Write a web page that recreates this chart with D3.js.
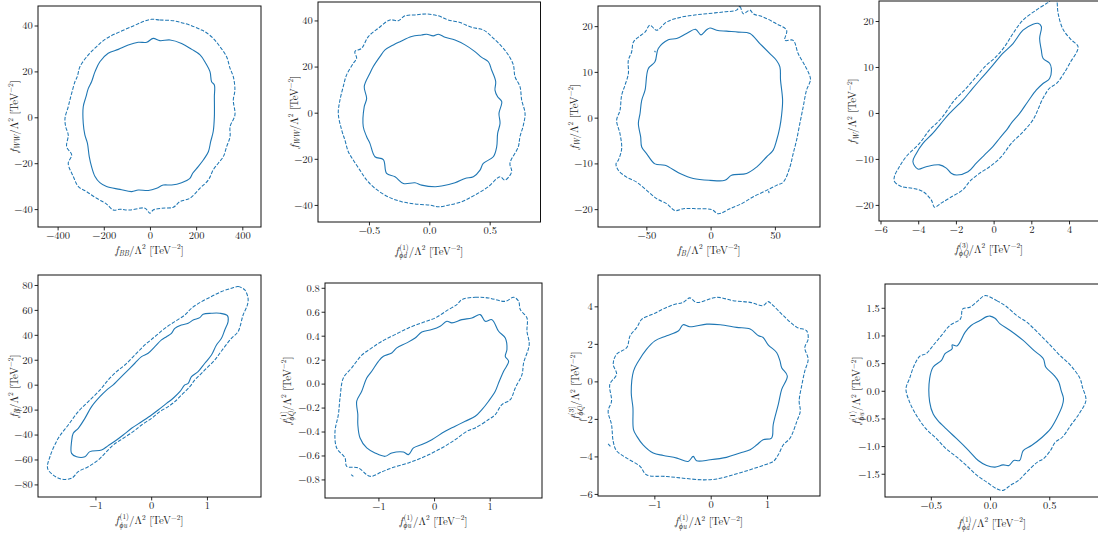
<!DOCTYPE html>
<html>
<head>
<meta charset="utf-8">
<script src="https://cdn.jsdelivr.net/npm/d3@7"></script>
<style>
  html, body { margin: 0; padding: 0; background: #fff; }
  svg { display: block; }
</style>
</head>
<body>
<script>
// ---- contour data: [coefficient on x, coefficient on y] ----
const p1Solid = [[14,34.4],[43,33.4],[87,33.7],[137,32.2],[181,29.6],[217,27.2],[238,24.2],[260,19.9],[267,15.5],[279,14.1],[279,9],[279,0.3],[274,-6.2],[263,-10.6],[253,-15],[231,-18.6],[209,-21.5],[185,-24.4],[173,-26.6],[137,-28.5],[94,-29.5],[58,-29.5],[29,-30.9],[-7,-31.9],[-51,-31.7],[-79,-32.4],[-130,-31.4],[-188,-30.2],[-217,-28.5],[-238,-25.8],[-253,-21.5],[-263,-17.1],[-271,-11.3],[-282,-7.7],[-289,-2.6],[-289,4.6],[-277,9],[-267,12.6],[-253,15.5],[-238,19.9],[-217,24.2],[-181,27.9],[-137,29.6],[-94,31.5],[-51,32.7],[-14,32.7]];
const p1Dashed = [[7,42.7],[43,42.4],[101,42.1],[137,41.2],[173,40.2],[217,38.3],[238,37.3],[274,34.4],[303,30.8],[332,26.4],[347,21.3],[361,17.7],[368,11.9],[361,7.5],[368,1.0],[347,-4.1],[347,-8.4],[332,-12.8],[318,-17.1],[296,-20],[274,-22.9],[253,-27.3],[217,-30.9],[173,-35.3],[130,-36.7],[101,-39.2],[51,-39.6],[14,-40.4],[0,-41.8],[-22,-39.6],[-87,-40.4],[-130,-40.1],[-159,-40.4],[-188,-37.8],[-231,-35.3],[-274,-32.4],[-310,-30.2],[-332,-25.8],[-354,-20],[-339,-16.4],[-361,-12.8],[-354,-7.7],[-365,-4.1],[-368,-0.4],[-354,4.6],[-347,7.5],[-339,10.5],[-325,15.5],[-315,17.7],[-303,22.1],[-267,27.2],[-231,30.8],[-188,34.4],[-130,37.3],[-72,39.8],[-29,41.7]];

const p2Solid = [[-0.022,34.0],[0.033,33.3],[0.075,34.0],[0.13,32.7],[0.213,31.5],[0.296,29.4],[0.378,26.5],[0.434,24.0],[0.489,22.1],[0.516,18.5],[0.55,13.5],[0.544,9.8],[0.566,6.9],[0.6,4.8],[0.577,-0.3],[0.586,-4.6],[0.566,-9.0],[0.558,-14.8],[0.53,-19.1],[0.447,-22],[0.42,-24.9],[0.365,-27.8],[0.296,-28.5],[0.213,-30.4],[0.102,-31.8],[0.047,-32.1],[-0.064,-31.4],[-0.119,-30.4],[-0.215,-30.7],[-0.284,-27.8],[-0.354,-26.3],[-0.381,-20.3],[-0.45,-19.1],[-0.492,-13.3],[-0.519,-10.4],[-0.547,-6.1],[-0.539,2.6],[-0.519,6.2],[-0.539,11.3],[-0.492,17.1],[-0.464,20.0],[-0.409,24.3],[-0.367,27.2],[-0.298,29.4],[-0.243,30.8],[-0.146,33.0],[-0.064,33.7]];
const p2Dashed = [[-0.022,42.8],[0.075,42.0],[0.157,40.2],[0.254,39.1],[0.351,37.0],[0.447,35.9],[0.516,33.0],[0.6,28.7],[0.655,25.0],[0.696,20.7],[0.71,15.6],[0.751,11.3],[0.765,5.5],[0.793,-0.3],[0.779,-5.4],[0.751,-10.4],[0.737,-14.8],[0.668,-22],[0.682,-25.6],[0.627,-29.2],[0.586,-27.8],[0.489,-32.1],[0.378,-35.7],[0.268,-38.6],[0.157,-40.1],[0.075,-40.8],[0.006,-40.1],[-0.119,-39.6],[-0.229,-38.6],[-0.34,-36.5],[-0.45,-32.8],[-0.519,-29.2],[-0.575,-24.9],[-0.63,-20.5],[-0.671,-16.9],[-0.699,-11.9],[-0.726,-7.5],[-0.754,-0.3],[-0.74,5.5],[-0.713,11.3],[-0.685,16.4],[-0.63,21.4],[-0.602,23.6],[-0.616,26.5],[-0.561,27.9],[-0.505,33.0],[-0.423,36.6],[-0.326,40.2],[-0.257,39.9],[-0.202,42.0],[-0.119,42.4]];

const p3Solid = [[-0.5,19.6],[4.7,19.1],[12.4,18.9],[21.5,18.7],[30.6,18.4],[38.3,16.2],[46.1,14.0],[51.3,12.5],[53.9,11.1],[54.4,8.2],[56,3.8],[55.2,0.5],[53.9,-2.0],[51.3,-5.0],[48.7,-7.1],[43.5,-8.6],[35.8,-10.8],[28,-12.2],[16.3,-12.6],[11.1,-13.7],[-0.5,-13.7],[-13.5,-13.3],[-23.8,-12.2],[-35.5,-10.4],[-43.3,-10.1],[-49.7,-7.9],[-53.6,-6.4],[-54.4,-4.2],[-56.2,-1.3],[-54.9,0.9],[-53.6,3.8],[-51,6.0],[-48.5,10.7],[-43.3,12.2],[-40.7,15.1],[-32.9,17.0],[-26.4,17.3],[-18.7,18.4],[-11.7,19.3],[-7.5,18.1],[-3.1,19.2]];
const p3Dashed = [[20.2,23.5],[22.8,24.3],[25.4,22.7],[30.6,23.5],[33.2,22.7],[40.9,22.0],[51.3,20.5],[59.1,19.1],[57.8,16.9],[64.2,16.9],[68.1,14.0],[73.3,11.4],[75.9,10.0],[77.7,8.3],[74.6,6.0],[72,2.3],[69.4,-1.3],[66.8,-5.0],[64.2,-7.9],[61.7,-10.8],[56.5,-14.1],[51.3,-14.8],[43.5,-15.9],[33.2,-17.3],[24.1,-18.8],[15,-19.9],[6,-21],[0.8,-20.1],[-10.9,-19.9],[-21.2,-19.9],[-27.7,-20.3],[-34.2,-18.8],[-42,-17.7],[-49.7,-15.9],[-57.5,-14.1],[-65.3,-13],[-71.8,-11.5],[-73.6,-10.1],[-71.8,-9.3],[-69.2,-6.8],[-70.5,-3.5],[-73.1,-0.6],[-70.5,1.6],[-69.2,4.9],[-66.6,7.1],[-64,9.6],[-64,12.5],[-61.4,14.4],[-60.1,16.5],[-56.2,17.6],[-51,18.7],[-47.2,20.2],[-42,19.1],[-34.2,20.9],[-23.8,21.9],[-13.5,22.4],[-3.1,22.7],[9.8,23.1]];
const p3Specks = [[[-43.6,14.6],[-42.9,14.3]], [[45.1,-16.0],[45.5,-16.5]]];

const p4Solid = [[-4.28,-10.6],[-4.02,-12.2],[-3.58,-11.7],[-2.87,-11.3],[-2.51,-12.0],[-2.25,-13.1],[-1.98,-13.5],[-1.36,-12.8],[-0.92,-10.9],[-0.48,-9.1],[-0.04,-7.3],[0.32,-5.5],[0.76,-3.3],[0.94,-2.2],[1.38,-0.1],[1.82,2.5],[2.27,5.0],[2.62,6.4],[2.97,7.5],[3.06,9.7],[2.97,10.8],[2.62,11.9],[2.53,13.7],[2.44,16.2],[2.53,18.8],[2.35,19.5],[2.09,19.3],[1.56,18.0],[1.03,15.1],[0.5,13.0],[-0.04,10.4],[-0.57,7.9],[-1.1,5.4],[-1.63,2.8],[-2.34,-0.1],[-2.78,-2.2],[-3.22,-4.4],[-3.75,-6.6],[-4.1,-8.8]];
const p4Dashed = [[-5.26,-13.8],[-5.26,-14.9],[-4.9,-16.0],[-4.28,-16.4],[-3.75,-17.1],[-3.31,-18.9],[-3.13,-20.5],[-2.78,-19.6],[-2.34,-18.5],[-1.63,-16.7],[-1.27,-14.9],[-0.74,-13.1],[-0.21,-11.7],[0.41,-9.5],[0.94,-6.6],[1.56,-4.1],[2.09,-1.5],[2.62,3.2],[2.97,5.4],[3.33,6.4],[3.68,8.3],[4.04,10.8],[4.48,14.4],[4.12,15.9],[3.68,18.2],[3.42,21.7],[3.36,24.4],[3.3,25.3],[3.1,25.3],[2.95,24.2],[2.8,23.8],[2.27,22.4],[1.56,20.2],[1.03,17.3],[0.58,14.4],[0.05,11.9],[-0.39,10.4],[-0.92,7.9],[-1.45,5.4],[-2.07,2.8],[-2.78,-1.2],[-3.4,-3.7],[-3.93,-6.6],[-4.64,-9.5],[-5.0,-11.7]];

const p5Solid = [[0.932,56.5],[1.081,57.3],[1.231,57.3],[1.368,55.4],[1.38,50.6],[1.32,43.9],[1.261,37.2],[1.171,31.9],[1.081,23.8],[0.962,17.2],[0.842,10.5],[0.723,6.4],[0.663,1.1],[0.603,-0.2],[0.514,-5.6],[0.394,-10.9],[0.275,-15.0],[0.125,-20.3],[0.006,-24.3],[-0.173,-29.7],[-0.352,-35.0],[-0.502,-40.4],[-0.621,-44.4],[-0.771,-48.9],[-0.89,-52.4],[-1.099,-53.7],[-1.189,-57.8],[-1.338,-57.8],[-1.428,-55.1],[-1.428,-45.7],[-1.398,-39.0],[-1.308,-35.0],[-1.189,-27.0],[-1.069,-17.6],[-0.92,-9.6],[-0.8,-4.3],[-0.681,-0.2],[-0.591,3.8],[-0.442,10.5],[-0.293,17.2],[-0.173,22.5],[-0.054,25.2],[0.066,30.5],[0.185,35.9],[0.275,38.5],[0.364,41.2],[0.424,45.2],[0.543,47.9],[0.663,49.3],[0.753,51.9],[0.872,53.8]];
const p5Dashed = [[1.439,77.3],[1.559,78.7],[1.679,76.0],[1.738,69.3],[1.726,64.0],[1.649,55.9],[1.559,42.6],[1.439,37.2],[1.32,30.5],[1.231,25.2],[1.141,19.8],[1.022,14.5],[0.902,9.1],[0.783,3.8],[0.693,-1.6],[0.543,-8.3],[0.424,-13.6],[0.305,-17.6],[0.155,-21.6],[0.006,-27.0],[-0.173,-32.3],[-0.323,-37.7],[-0.502,-43.0],[-0.681,-48.4],[-0.8,-53.7],[-0.95,-60.4],[-1.129,-65.8],[-1.308,-69.8],[-1.428,-75.1],[-1.607,-75.7],[-1.756,-72.5],[-1.858,-67.1],[-1.816,-57.8],[-1.667,-43.0],[-1.487,-32.3],[-1.308,-21.6],[-1.129,-13.6],[-0.92,-4.3],[-0.771,3.8],[-0.621,10.5],[-0.472,15.8],[-0.293,23.8],[-0.113,31.9],[0.066,38.5],[0.245,45.2],[0.424,50.6],[0.603,55.9],[0.723,61.3],[0.902,66.6],[1.081,70.7],[1.261,74.7]];

const p6Solid = [[0.83,0.576],[0.92,0.52],[1.04,0.534],[1.16,0.437],[1.28,0.381],[1.31,0.284],[1.28,0.228],[1.34,0.186],[1.25,0.103],[1.16,0.006],[1.1,-0.064],[0.98,-0.147],[0.86,-0.217],[0.74,-0.273],[0.56,-0.314],[0.38,-0.356],[0.2,-0.398],[-0.04,-0.468],[-0.22,-0.509],[-0.37,-0.537],[-0.46,-0.593],[-0.55,-0.571],[-0.76,-0.579],[-0.88,-0.607],[-1.06,-0.579],[-1.21,-0.537],[-1.33,-0.454],[-1.37,-0.342],[-1.37,-0.259],[-1.39,-0.147],[-1.3,-0.064],[-1.21,0.047],[-1.12,0.103],[-1.0,0.186],[-0.91,0.228],[-0.76,0.256],[-0.67,0.298],[-0.49,0.34],[-0.34,0.381],[-0.22,0.431],[-0.04,0.451],[0.11,0.479],[0.23,0.52],[0.32,0.507],[0.5,0.534],[0.68,0.548]];
const p6Dashed = [[0.5,0.701],[0.74,0.721],[0.98,0.715],[1.28,0.687],[1.43,0.721],[1.52,0.687],[1.55,0.618],[1.67,0.548],[1.67,0.437],[1.71,0.326],[1.61,0.173],[1.58,0.075],[1.46,-0.036],[1.37,-0.134],[1.22,-0.175],[1.1,-0.259],[0.98,-0.3],[0.74,-0.37],[0.59,-0.398],[0.38,-0.468],[0.14,-0.537],[-0.16,-0.607],[-0.46,-0.662],[-0.76,-0.704],[-0.94,-0.737],[-1.15,-0.774],[-1.36,-0.704],[-1.57,-0.69],[-1.6,-0.621],[-1.75,-0.537],[-1.78,-0.398],[-1.72,-0.259],[-1.69,-0.12],[-1.63,0.047],[-1.48,0.131],[-1.3,0.237],[-1.12,0.298],[-0.94,0.353],[-0.7,0.409],[-0.46,0.465],[-0.22,0.507],[0.02,0.548],[0.26,0.618],[0.41,0.66]];
const p6Specks = [[[-1.49,-0.76],[-1.45,-0.775]]];

const p7Solid = [[-0.49,3.02],[-0.37,2.91],[-0.07,3.05],[0.17,3.02],[0.46,2.88],[0.7,2.79],[0.85,2.43],[0.93,2.34],[1.02,1.95],[1.17,1.54],[1.23,1.09],[1.26,0.73],[1.36,0.29],[1.26,-0.43],[1.2,-1.23],[1.11,-2.3],[1.08,-3.02],[0.93,-3.11],[0.82,-3.38],[0.7,-3.64],[0.52,-3.82],[0.28,-4.05],[-0.01,-4.18],[-0.25,-4.23],[-0.31,-4.0],[-0.4,-4.27],[-0.6,-4.09],[-0.84,-3.95],[-1.02,-3.82],[-1.2,-3.38],[-1.31,-2.93],[-1.37,-2.57],[-1.38,-1.41],[-1.41,-0.61],[-1.37,0.55],[-1.28,1.09],[-1.14,1.71],[-0.99,2.16],[-0.78,2.43],[-0.57,2.7]];
const p7Dashed = [[-0.37,4.45],[-0.25,4.21],[0.11,4.48],[0.4,4.3],[0.7,4.21],[0.93,4.04],[1.02,4.25],[1.11,4.04],[1.29,3.5],[1.53,2.88],[1.7,2.7],[1.73,2.25],[1.67,1.8],[1.73,1.18],[1.67,0.55],[1.62,-0.16],[1.57,-1.05],[1.59,-1.59],[1.53,-2.12],[1.41,-3.02],[1.29,-3.38],[1.2,-3.91],[1.11,-4.27],[0.96,-4.45],[0.7,-4.71],[0.4,-4.98],[0.11,-5.2],[-0.13,-5.25],[-0.49,-5.16],[-0.78,-5.07],[-1.14,-4.98],[-1.25,-4.54],[-1.49,-4.09],[-1.67,-3.7],[-1.73,-3.2],[-1.76,-2.3],[-1.82,-1.59],[-1.76,-1.05],[-1.79,-0.16],[-1.67,0.38],[-1.73,0.91],[-1.67,1.45],[-1.49,1.8],[-1.43,2.43],[-1.31,2.88],[-1.22,3.32],[-1.02,3.59],[-0.84,3.86],[-0.66,4.09],[-0.49,4.21]];
const p7Specks = [[[-1.82,-3.33],[-1.78,-3.46]]];

const p8Solid = [[0,1.35],[0.042,1.31],[0.085,1.21],[0.17,1.09],[0.28,0.91],[0.37,0.73],[0.45,0.58],[0.47,0.43],[0.54,0.28],[0.58,0.16],[0.6,0.006],[0.62,-0.14],[0.61,-0.27],[0.56,-0.51],[0.51,-0.69],[0.44,-0.84],[0.35,-0.99],[0.28,-1.08],[0.25,-1.26],[0.2,-1.26],[0.16,-1.35],[0.11,-1.34],[0.042,-1.38],[-0.028,-1.35],[-0.1,-1.26],[-0.18,-1.08],[-0.28,-0.87],[-0.37,-0.69],[-0.44,-0.54],[-0.48,-0.42],[-0.51,-0.2],[-0.51,0.22],[-0.48,0.43],[-0.41,0.55],[-0.38,0.67],[-0.32,0.76],[-0.32,0.83],[-0.28,0.81],[-0.21,1.06],[-0.16,1.18],[-0.085,1.27],[-0.028,1.34]];
const p8Dashed = [[-0.042,1.72],[0.056,1.63],[0.127,1.54],[0.226,1.36],[0.31,1.24],[0.4,1.06],[0.51,0.82],[0.59,0.64],[0.68,0.46],[0.76,0.22],[0.78,0.066],[0.81,-0.17],[0.76,-0.39],[0.68,-0.63],[0.61,-0.84],[0.55,-0.93],[0.51,-1.08],[0.45,-1.23],[0.4,-1.29],[0.31,-1.47],[0.24,-1.62],[0.17,-1.71],[0.11,-1.8],[0.056,-1.77],[-0.028,-1.65],[-0.11,-1.53],[-0.2,-1.35],[-0.28,-1.2],[-0.37,-1.05],[-0.45,-0.87],[-0.54,-0.69],[-0.62,-0.45],[-0.68,-0.2],[-0.71,0.036],[-0.68,0.22],[-0.64,0.46],[-0.59,0.63],[-0.54,0.67],[-0.48,0.82],[-0.41,1.0],[-0.34,1.18],[-0.25,1.3],[-0.23,1.48],[-0.17,1.51],[-0.1,1.63]];

// ---- tick values ----
const p1XTicks = [-400, -200, 0, 200, 400], p1YTicks = [-40, -20, 0, 20, 40];
const p2XTicks = [-0.5, 0, 0.5],            p2YTicks = [-40, -20, 0, 20, 40];
const p3XTicks = [-50, 0, 50],              p3YTicks = [-20, -10, 0, 10, 20];
const p4XTicks = [-6, -4, -2, 0, 2, 4],     p4YTicks = [-20, -10, 0, 10, 20];
const p5XTicks = [-1, 0, 1],                p5YTicks = [-80, -60, -40, -20, 0, 20, 40, 60, 80];
const p6XTicks = [-1, 0, 1],                p6YTicks = [-0.8, -0.6, -0.4, -0.2, 0, 0.2, 0.4, 0.6, 0.8];
const p7XTicks = [-1, 0, 1],                p7YTicks = [-6, -4, -2, 0, 2, 4];
const p8XTicks = [-0.5, 0, 0.5],            p8YTicks = [-1.5, -1.0, -0.5, 0, 0.5, 1.0, 1.5];

// ---- Wilson coefficient names: f^{sup}_{sub} ----
const p1Names = [{ sub: "BB" }, { sub: "WW" }];
const p2Names = [{ sup: "(1)", sub: "ϕd" }, { sub: "WW" }];
const p3Names = [{ sub: "B" }, { sub: "W" }];
const p4Names = [{ sup: "(3)", sub: "ϕQ" }, { sub: "W" }];
const p5Names = [{ sup: "(1)", sub: "ϕu" }, { sub: "B" }];
const p6Names = [{ sup: "(1)", sub: "ϕu" }, { sup: "(1)", sub: "ϕQ" }];
const p7Names = [{ sup: "(1)", sub: "ϕu" }, { sup: "(3)", sub: "ϕQ" }];
const p8Names = [{ sup: "(1)", sub: "ϕd" }, { sup: "(1)", sub: "ϕu" }];

// ---- panel layout (pixel boxes, axis ranges, label offsets) ----
const layout = [
  { box: [38, 6, 223, 221],    xd: [-485, 481],     yd: [-47.8, 48.5],  fx: "d",   fy: "d",   ylx: 17.5,  xly: 253.8 },
  { box: [318, 2, 222.5, 220], xd: [-0.922, 0.921], yd: [-47.4, 48.0],  fx: ".1f", fy: "d",   ylx: 297.7, xly: 254.5 },
  { box: [598, 6, 222, 221],   xd: [-87.6, 85.1],   yd: [-23.9, 24.4],  fx: "d",   fy: "d",   ylx: 577.7, xly: 253.8 },
  { box: [879, 1, 220, 220],   xd: [-6.08, 5.59],   yd: [-23.5, 24.35], fx: "d",   fy: "d",   ylx: 856.3, xly: 252.5 },
  { box: [38, 275, 223, 222],  xd: [-2.03, 1.97],   yd: [-90.1, 88.0],  fx: "d",   fy: "d",   ylx: 17.5,  xly: 524.3 },
  { box: [325, 283, 217, 215], xd: [-1.96, 1.94],   yd: [-0.955, 0.84], fx: "d",   fy: ".1f", ylx: 291,   xly: 525 },
  { box: [598, 275, 222, 221], xd: [-2.0, 1.94],    yd: [-6.11, 5.67],  fx: "d",   fy: "d",   ylx: 579.3, xly: 525.3 },
  { box: [885, 284, 214, 213], xd: [-0.887, 0.92], yd: [-1.92, 1.93],  fx: ".1f", fy: ".1f", ylx: 860.3, xly: 526.8 }
];

const panels = [
  { solid: p1Solid, dashed: p1Dashed, specks: [],       xt: p1XTicks, yt: p1YTicks, names: p1Names },
  { solid: p2Solid, dashed: p2Dashed, specks: [],       xt: p2XTicks, yt: p2YTicks, names: p2Names },
  { solid: p3Solid, dashed: p3Dashed, specks: p3Specks, xt: p3XTicks, yt: p3YTicks, names: p3Names },
  { solid: p4Solid, dashed: p4Dashed, specks: [],       xt: p4XTicks, yt: p4YTicks, names: p4Names },
  { solid: p5Solid, dashed: p5Dashed, specks: [],       xt: p5XTicks, yt: p5YTicks, names: p5Names },
  { solid: p6Solid, dashed: p6Dashed, specks: p6Specks, xt: p6XTicks, yt: p6YTicks, names: p6Names },
  { solid: p7Solid, dashed: p7Dashed, specks: p7Specks, xt: p7XTicks, yt: p7YTicks, names: p7Names },
  { solid: p8Solid, dashed: p8Dashed, specks: [],       xt: p8XTicks, yt: p8YTicks, names: p8Names }
];

const W = 1098, H = 536;
const BLUE = "#1f77b4";
const FONT = "'Latin Modern Roman', 'Liberation Serif', serif";
const TICK_FS = 10.5;     // tick label size
const FS = 10.8;          // axis title size
const SFS = 7.4;          // script size

const svg = d3.select("body").append("svg").attr("width", W).attr("height", H);
const defs = svg.append("defs");

// Builds "f^{sup}_{sub}/Λ² [TeV⁻²]" out of tspans.
function axisTitle(text, name) {
  text.style("font-family", FONT).style("font-size", FS + "px").attr("fill", "#222");
  text.append("tspan").style("font-style", "italic").text("f");
  let shift = 0;
  const move = (to) => { const d = to - shift; shift = to; return d; };
  const script = (s) => s.style("font-size", SFS + "px");
  if (name.sup) {
    const sp = script(text.append("tspan")).attr("dx", 0.8).attr("dy", move(-5.0)).text(name.sup);
    const supW = sp.node().getComputedTextLength();
    const sb = script(text.append("tspan")).style("font-style", "italic")
      .attr("dx", -supW).attr("dy", move(3.2)).text(name.sub);
    const subW = sb.node().getComputedTextLength();
    text.append("tspan").attr("dx", Math.max(0, supW - subW)).attr("dy", move(0)).text("/Λ");
  } else {
    script(text.append("tspan")).style("font-style", "italic")
      .attr("dy", move(2.6)).text(name.sub);
    text.append("tspan").attr("dy", move(0)).text("/Λ");
  }
  script(text.append("tspan")).attr("dy", move(-4.8)).text("2");
  text.append("tspan").attr("dy", move(0)).text(" [TeV");
  script(text.append("tspan")).attr("dy", move(-4.8)).text("−2");
  text.append("tspan").attr("dy", move(0)).text("]");
}

panels.forEach((p, i) => {
  const L = layout[i];
  const [l, t, w, h] = L.box;
  const g = svg.append("g").attr("transform", `translate(${l},${t})`);

  const x = d3.scaleLinear().domain(L.xd).range([0, w]);
  const y = d3.scaleLinear().domain(L.yd).range([h, 0]);

  defs.append("clipPath").attr("id", "clip" + i)
    .append("rect").attr("width", w).attr("height", h);

  const plot = g.append("g").attr("clip-path", `url(#clip${i})`);
  const closed = d3.line().x(d => x(d[0])).y(d => y(d[1])).curve(d3.curveCatmullRomClosed.alpha(0.5));
  const open = d3.line().x(d => x(d[0])).y(d => y(d[1]));

  plot.append("path").attr("d", closed(p.dashed))
    .attr("fill", "none").attr("stroke", BLUE).attr("stroke-width", 1.05)
    .attr("stroke-dasharray", "3.7,1.6");
  plot.append("path").attr("d", closed(p.solid))
    .attr("fill", "none").attr("stroke", BLUE).attr("stroke-width", 1.1);
  p.specks.forEach(s => {
    plot.append("path").attr("d", open(s))
      .attr("fill", "none").attr("stroke", BLUE).attr("stroke-width", 1.1);
  });

  // axes
  const xAxis = d3.axisBottom(x).tickValues(p.xt).tickFormat(d3.format(L.fx))
    .tickSize(3.4).tickSizeOuter(0).tickPadding(1.6);
  const yAxis = d3.axisLeft(y).tickValues(p.yt).tickFormat(d3.format(L.fy))
    .tickSize(3.4).tickSizeOuter(0).tickPadding(1.8);

  const gx = g.append("g").attr("transform", `translate(0,${h})`).call(xAxis);
  const gy = g.append("g").call(yAxis);
  [gx, gy].forEach(a => {
    a.attr("font-family", null).attr("font-size", null);
    a.select(".domain").remove();
    a.selectAll(".tick line").attr("stroke", "#111").attr("stroke-width", 0.9);
    a.selectAll(".tick text")
      .style("font-family", FONT).style("font-size", TICK_FS + "px").attr("fill", "#222");
  });

  // frame
  g.append("rect").attr("width", w).attr("height", h)
    .attr("fill", "none").attr("stroke", "#111").attr("stroke-width", 1);

  // axis titles
  const xt = g.append("text").attr("x", w / 2).attr("y", L.xly - t).attr("text-anchor", "middle");
  axisTitle(xt, p.names[0]);
  const yt = svg.append("text").attr("text-anchor", "middle")
    .attr("transform", `translate(${L.ylx},${t + h / 2}) rotate(-90)`);
  axisTitle(yt, p.names[1]);
});
</script>
</body>
</html>
